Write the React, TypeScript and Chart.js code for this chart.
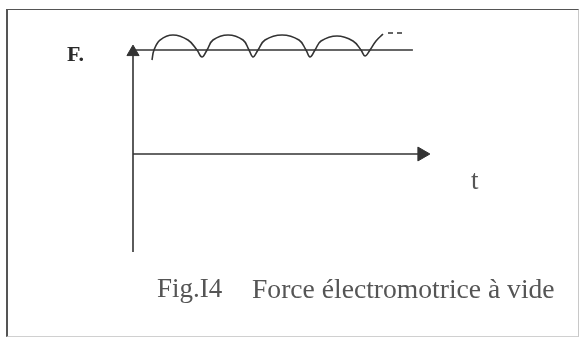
import React, { useEffect, useRef } from "react";
import { Chart, registerables } from "chart.js";

Chart.register(...registerables);

// Time axis (t) in arbitrary units 0..100, EMF in units where F level = 1
const emfT = [6.33, 7, 9, 13.33, 18.33, 21.33, 23, 24.67, 26.67, 31.67, 36.67, 38.67, 40, 41.67, 44, 49.67, 55.33, 57.67, 59, 60.67, 62.67, 68, 73.33, 76, 77.33, 79, 81, 83.33];
const emfValues = [0.904, 1.0, 1.096, 1.144, 1.096, 1.0, 0.933, 1.0, 1.096, 1.144, 1.096, 1.0, 0.933, 1.0, 1.096, 1.144, 1.096, 1.0, 0.933, 1.0, 1.087, 1.135, 1.087, 1.0, 0.942, 1.0, 1.087, 1.154];
const emfDashT = [85, 90.5];
const emfDashValues = [1.163, 1.163];
const levelT = [0, 93.3];
const levelValues = [1, 1];
const yAxisT = [0, 0];
const yAxisValues = [-0.942, 0.98];
const tAxisT = [0, 96.3];
const tAxisValues = [0, 0];

const yLabel = "F.";
const xLabel = "t";
const figLabel = "Fig.I4";
const caption = "Force électromotrice à vide";

const INK = "#333333";

const pts = (xs: number[], ys: number[]) => xs.map((x, i) => ({ x, y: ys[i] }));

export default function App() {
  const ref = useRef<HTMLCanvasElement | null>(null);

  useEffect(() => {
    if (!ref.current) return;
    const chart = new Chart(ref.current, {
      type: "line",
      data: {
        datasets: [
          {
            data: pts(yAxisT, yAxisValues),
            borderColor: INK,
            borderWidth: 1.6,
            pointRadius: [0, 7],
            pointStyle: "triangle",
            pointBackgroundColor: INK,
            pointBorderColor: INK,
            pointBorderWidth: 1,
            clip: false,
          },
          {
            data: pts(tAxisT, tAxisValues),
            borderColor: INK,
            borderWidth: 1.6,
            pointRadius: [0, 8],
            pointRotation: 90,
            pointStyle: "triangle",
            pointBackgroundColor: INK,
            pointBorderColor: INK,
            pointBorderWidth: 1,
            clip: false,
          },
          {
            data: pts(levelT, levelValues),
            borderColor: INK,
            borderWidth: 1.6,
            pointRadius: 0,
            clip: false,
          },
          {
            data: pts(emfT, emfValues),
            borderColor: INK,
            borderWidth: 1.6,
            pointRadius: 0,
            tension: 0.4,
            clip: false,
          },
          {
            data: pts(emfDashT, emfDashValues),
            borderColor: INK,
            borderWidth: 1.4,
            borderDash: [5, 4],
            pointRadius: 0,
            clip: false,
          },
        ],
      },
      options: {
        responsive: false,
        maintainAspectRatio: false,
        animation: false,
        devicePixelRatio: 1,
        layout: { padding: { left: 133, right: 151, top: 29.2, bottom: 89.2 } },
        scales: {
          x: { type: "linear", min: 0, max: 100, display: false },
          y: { type: "linear", min: -0.95, max: 1.2, display: false },
        },
        plugins: {
          legend: { display: false },
          tooltip: { enabled: false },
          title: { display: false },
        },
        events: [],
      } as any,
    });
    return () => chart.destroy();
  }, []);

  const serif = "'Liberation Serif', 'Times New Roman', serif";

  return (
    <div style={{ position: "absolute", left: 0, top: 0, width: 584, height: 342, background: "#ffffff", overflow: "hidden" }}>
      <div
        style={{
          position: "absolute",
          left: 6,
          top: 9,
          width: 573,
          height: 328,
          borderTop: "1.5px solid #555",
          borderLeft: "2px solid #555",
          borderRight: "1px solid #c8c8c8",
          borderBottom: "1px solid #d0d0d0",
          boxSizing: "border-box",
        }}
      />
      <canvas ref={ref} width={584} height={342} style={{ position: "absolute", left: 0, top: 0, width: 584, height: 342 }} />
      <div style={{ position: "absolute", left: 67, top: 42.6, fontFamily: serif, fontSize: 22, lineHeight: "22px", fontWeight: "bold", color: "#2a2a2a", whiteSpace: "pre" }}>
        {yLabel}
      </div>
      <div style={{ position: "absolute", left: 471, top: 167.4, fontFamily: serif, fontSize: 27, lineHeight: "27px", color: "#555", whiteSpace: "pre" }}>
        {xLabel}
      </div>
      <div style={{ position: "absolute", left: 157, top: 275.4, fontFamily: serif, fontSize: 27, lineHeight: "27px", color: "#555", whiteSpace: "pre" }}>
        {figLabel}
      </div>
      <div style={{ position: "absolute", left: 252, top: 275.4, fontFamily: serif, fontSize: 27.6, lineHeight: "27px", color: "#555", whiteSpace: "pre" }}>
        {caption}
      </div>
    </div>
  );
}
